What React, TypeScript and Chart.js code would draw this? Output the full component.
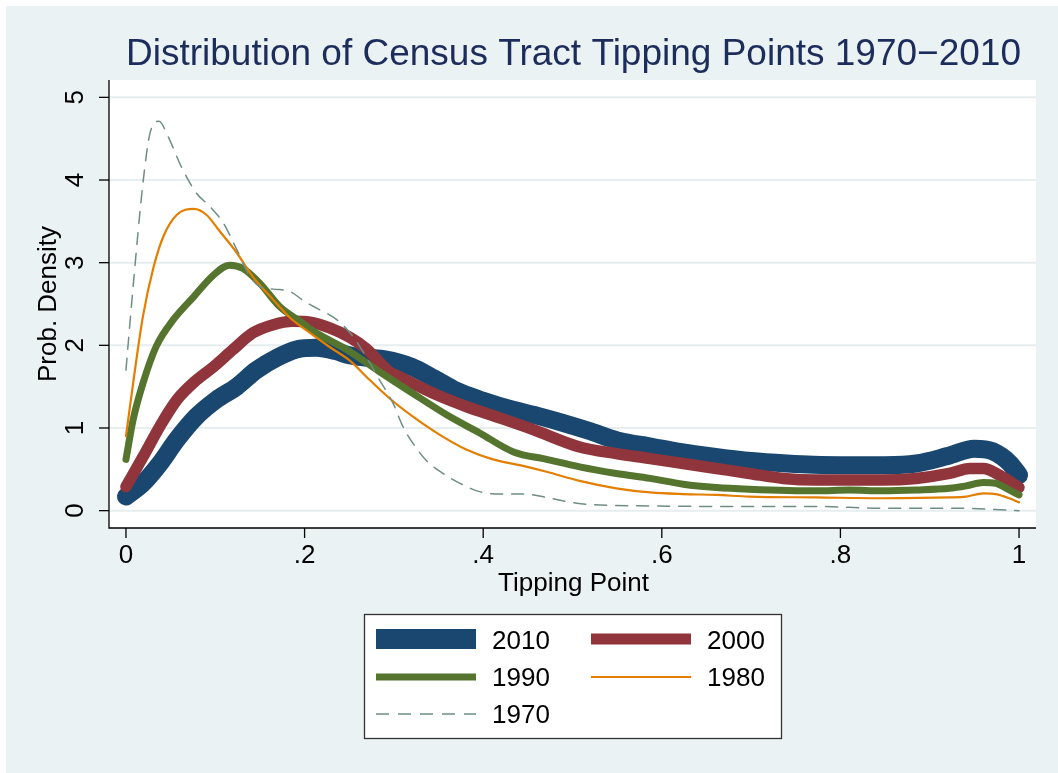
import React, { useEffect, useRef } from 'react';
import { Chart, registerables } from 'chart.js';

Chart.register(...registerables);

// ---- Data ----
const seriesNames = ['2010', '2000', '1990', '1980', '1970'];
const seriesColors = ['#1A476F', '#90353B', '#55752F', '#E37E00', '#6E8E84'];

const x2010 = [0, 0.019, 0.038, 0.057, 0.079, 0.101, 0.124, 0.146, 0.169, 0.191, 0.213, 0.235, 0.25, 0.27, 0.29, 0.32, 0.345, 0.37, 0.4, 0.43, 0.46, 0.49, 0.52, 0.55, 0.59, 0.62, 0.66, 0.7, 0.74, 0.77, 0.81, 0.85, 0.885, 0.92, 0.95, 0.97, 0.99, 1.0];
const y2010 = [0.17, 0.33, 0.57, 0.86, 1.14, 1.34, 1.5, 1.7, 1.85, 1.95, 1.97, 1.93, 1.88, 1.85, 1.83, 1.74, 1.6, 1.45, 1.33, 1.23, 1.15, 1.06, 0.96, 0.85, 0.77, 0.71, 0.65, 0.6, 0.57, 0.555, 0.55, 0.55, 0.57, 0.66, 0.75, 0.72, 0.57, 0.43];

const x2000 = [0, 0.019, 0.038, 0.057, 0.079, 0.098, 0.12, 0.142, 0.165, 0.187, 0.206, 0.228, 0.25, 0.269, 0.295, 0.306, 0.344, 0.381, 0.419, 0.456, 0.508, 0.549, 0.587, 0.624, 0.661, 0.698, 0.736, 0.773, 0.81, 0.847, 0.885, 0.922, 0.945, 0.96, 0.978, 1.0];
const y2000 = [0.29, 0.65, 1.02, 1.34, 1.58, 1.74, 1.95, 2.15, 2.25, 2.29, 2.28, 2.21, 2.1, 1.96, 1.68, 1.62, 1.42, 1.26, 1.12, 0.98, 0.77, 0.69, 0.63, 0.57, 0.51, 0.45, 0.39, 0.37, 0.37, 0.37, 0.39, 0.45, 0.51, 0.51, 0.43, 0.28];

const x1990 = [0, 0.008, 0.019, 0.034, 0.053, 0.076, 0.098, 0.116, 0.131, 0.15, 0.172, 0.195, 0.21, 0.247, 0.284, 0.321, 0.359, 0.396, 0.434, 0.471, 0.508, 0.549, 0.587, 0.624, 0.661, 0.698, 0.773, 0.81, 0.847, 0.885, 0.922, 0.941, 0.96, 0.974, 0.989, 1.0];
const y1990 = [0.62, 1.1, 1.54, 1.99, 2.31, 2.59, 2.85, 2.97, 2.93, 2.75, 2.47, 2.29, 2.17, 1.95, 1.68, 1.42, 1.16, 0.94, 0.71, 0.62, 0.53, 0.45, 0.39, 0.32, 0.28, 0.26, 0.24, 0.25, 0.24, 0.25, 0.27, 0.3, 0.34, 0.33, 0.25, 0.19];

const x1980 = [0, 0.008, 0.019, 0.031, 0.042, 0.057, 0.076, 0.09, 0.105, 0.124, 0.142, 0.165, 0.184, 0.206, 0.228, 0.25, 0.273, 0.295, 0.321, 0.351, 0.381, 0.411, 0.441, 0.471, 0.508, 0.549, 0.587, 0.624, 0.661, 0.698, 0.773, 0.847, 0.922, 0.941, 0.96, 0.974, 0.989, 1.0];
const y1980 = [0.9, 1.54, 2.35, 2.95, 3.32, 3.58, 3.65, 3.58, 3.38, 3.12, 2.83, 2.55, 2.33, 2.15, 1.98, 1.82, 1.58, 1.36, 1.14, 0.92, 0.74, 0.62, 0.55, 0.47, 0.36, 0.27, 0.22, 0.2, 0.19, 0.17, 0.16, 0.15, 0.16, 0.17, 0.21, 0.2, 0.15, 0.1];

const x1970 = [0, 0.008, 0.019, 0.027, 0.037, 0.047, 0.062, 0.079, 0.094, 0.109, 0.124, 0.139, 0.15, 0.165, 0.184, 0.2, 0.217, 0.236, 0.254, 0.269, 0.284, 0.299, 0.31, 0.321, 0.336, 0.355, 0.374, 0.396, 0.419, 0.448, 0.475, 0.512, 0.587, 0.698, 0.773, 0.847, 0.922, 1.0];
const y1970 = [1.7, 2.71, 3.96, 4.57, 4.71, 4.53, 4.16, 3.84, 3.68, 3.48, 3.16, 2.83, 2.71, 2.68, 2.65, 2.53, 2.43, 2.31, 2.11, 1.86, 1.58, 1.3, 1.02, 0.82, 0.61, 0.45, 0.33, 0.23, 0.2, 0.2, 0.15, 0.08, 0.057, 0.05, 0.05, 0.03, 0.03, 0.0];

const xTickValues = [0, 0.2, 0.4, 0.6, 0.8, 1];
const xTickLabels = ['0', '.2', '.4', '.6', '.8', '1'];
const yTickValues = [0, 1, 2, 3, 4, 5];
const yTickLabels = ['0', '1', '2', '3', '4', '5'];

const titleText = 'Distribution of Census Tract Tipping Points 1970\u22122010';
const xTitle = 'Tipping Point';
const yTitle = 'Prob. Density';

const FONT = '"Liberation Sans", Arial, Helvetica, sans-serif';
const BG = '#EAF2F3';

const xsAll = [x2010, x2000, x1990, x1980, x1970];
const ysAll = [y2010, y2000, y1990, y1980, y1970];
const widths = [18, 11.5, 7, 2.2, 1.5];

const pts = (xs: number[], ys: number[]) => xs.map((x, i) => ({ x, y: ys[i] }));

const decorPlugin = {
  id: 'decor',
  beforeDraw(chart: any) {
    const { ctx, chartArea, scales } = chart;
    const W = chart.width, H = chart.height;
    ctx.save();
    ctx.fillStyle = '#FFFFFF';
    ctx.fillRect(0, 0, W, H);
    ctx.fillStyle = BG;
    ctx.fillRect(6, 6, W - 6, H - 6);
    ctx.fillStyle = '#FFFFFF';
    ctx.fillRect(chartArea.left, chartArea.top, chartArea.right - chartArea.left, chartArea.bottom - chartArea.top);
    // horizontal grid
    ctx.strokeStyle = '#E6EEF0';
    ctx.lineWidth = 2;
    yTickValues.forEach((v) => {
      const py = scales.y.getPixelForValue(v);
      ctx.beginPath();
      ctx.moveTo(chartArea.left, py);
      ctx.lineTo(chartArea.right, py);
      ctx.stroke();
    });
    ctx.restore();
  },
  afterDraw(chart: any) {
    const { ctx, chartArea, scales } = chart;
    ctx.save();
    // axes
    ctx.strokeStyle = '#000000';
    ctx.lineWidth = 1.3;
    ctx.beginPath();
    ctx.moveTo(chartArea.left, chartArea.top);
    ctx.lineTo(chartArea.left, chartArea.bottom);
    ctx.lineTo(chartArea.right, chartArea.bottom);
    ctx.stroke();
    // x ticks
    ctx.fillStyle = '#000000';
    ctx.font = `26px ${FONT}`;
    ctx.textAlign = 'center';
    ctx.textBaseline = 'alphabetic';
    xTickValues.forEach((v, i) => {
      const px = scales.x.getPixelForValue(v);
      ctx.beginPath();
      ctx.moveTo(px, chartArea.bottom);
      ctx.lineTo(px, chartArea.bottom + 10);
      ctx.stroke();
      ctx.fillText(xTickLabels[i], px, 563);
    });
    // y ticks
    yTickValues.forEach((v, i) => {
      const py = scales.y.getPixelForValue(v);
      ctx.beginPath();
      ctx.moveTo(chartArea.left, py);
      ctx.lineTo(chartArea.left - 10, py);
      ctx.stroke();
      ctx.save();
      ctx.translate(75, py);
      ctx.rotate(-Math.PI / 2);
      ctx.textAlign = 'center';
      ctx.textBaseline = 'middle';
      ctx.fillText(yTickLabels[i], 0, 1);
      ctx.restore();
    });
    // axis titles
    ctx.textAlign = 'center';
    ctx.textBaseline = 'alphabetic';
    ctx.fillText(xTitle, (chartArea.left + chartArea.right) / 2 + 1, 591);
    ctx.save();
    ctx.translate(49, (chartArea.top + chartArea.bottom) / 2);
    ctx.rotate(-Math.PI / 2);
    ctx.textBaseline = 'middle';
    ctx.fillText(yTitle, 0, 0);
    ctx.restore();
    // title
    ctx.fillStyle = '#1C2D5C';
    ctx.font = `37px ${FONT}`;
    ctx.textAlign = 'center';
    ctx.fillText(titleText, 573.5, 65);
    // legend
    const lx = 364, ly = 614, lw = 417, lh = 124;
    ctx.fillStyle = '#FFFFFF';
    ctx.fillRect(lx, ly, lw, lh);
    ctx.strokeStyle = '#333333';
    ctx.lineWidth = 1.3;
    ctx.strokeRect(lx + 0.5, ly + 0.5, lw, lh);
    const legendWidths = [20, 11, 7, 2, 1.5];
    const colX = [376, 591];
    const textX = [492, 707];
    const rowY = [639, 677, 714];
    const rowBase = [649, 686, 722.5];
    seriesNames.forEach((name, i) => {
      const col = i % 2;
      const row = Math.floor(i / 2);
      ctx.save();
      ctx.strokeStyle = seriesColors[i];
      ctx.lineWidth = legendWidths[i];
      ctx.lineCap = 'butt';
      if (i === 4) ctx.setLineDash([13, 9]);
      ctx.beginPath();
      ctx.moveTo(colX[col], rowY[row]);
      ctx.lineTo(colX[col] + 100, rowY[row]);
      ctx.stroke();
      ctx.restore();
      ctx.fillStyle = '#000000';
      ctx.font = `26px ${FONT}`;
      ctx.textAlign = 'left';
      ctx.textBaseline = 'alphabetic';
      ctx.fillText(name, textX[col], rowBase[row]);
    });
    ctx.restore();
  },
};

export default function App() {
  const canvasRef = useRef<HTMLCanvasElement | null>(null);

  useEffect(() => {
    document.body.style.margin = '0';
    const canvas = canvasRef.current;
    if (!canvas) return;
    const datasets = seriesNames.map((name, i) => ({
      label: name,
      data: pts(xsAll[i], ysAll[i]),
      borderColor: seriesColors[i],
      backgroundColor: seriesColors[i],
      borderWidth: widths[i],
      borderCapStyle: 'round' as const,
      borderJoinStyle: 'round' as const,
      borderDash: i === 4 ? [12, 9] : [],
      pointRadius: 0,
      pointHoverRadius: 0,
      fill: false,
      cubicInterpolationMode: 'monotone' as const,
      order: i + 1 === 0 ? 0 : 5 - i,
      clip: false as any,
    }));
    const chart = new Chart(canvas, {
      type: 'line',
      data: { datasets },
      options: {
        responsive: false,
        devicePixelRatio: 1,
        animation: false,
        events: [],
        layout: { padding: { left: 109, top: 80, right: 22, bottom: 245 } },
        plugins: { legend: { display: false }, tooltip: { enabled: false }, title: { display: false } },
        scales: {
          x: { type: 'linear', min: -0.019, max: 1.019, display: false },
          y: { type: 'linear', min: -0.21, max: 5.21, display: false },
        },
      },
      plugins: [decorPlugin],
    });
    return () => chart.destroy();
  }, []);

  return (
    <div style={{ position: 'fixed', left: 0, top: 0, width: 1058, height: 773, background: BG }}>
      <canvas ref={canvasRef} width={1058} height={773} style={{ display: 'block', width: 1058, height: 773 }} />
    </div>
  );
}
